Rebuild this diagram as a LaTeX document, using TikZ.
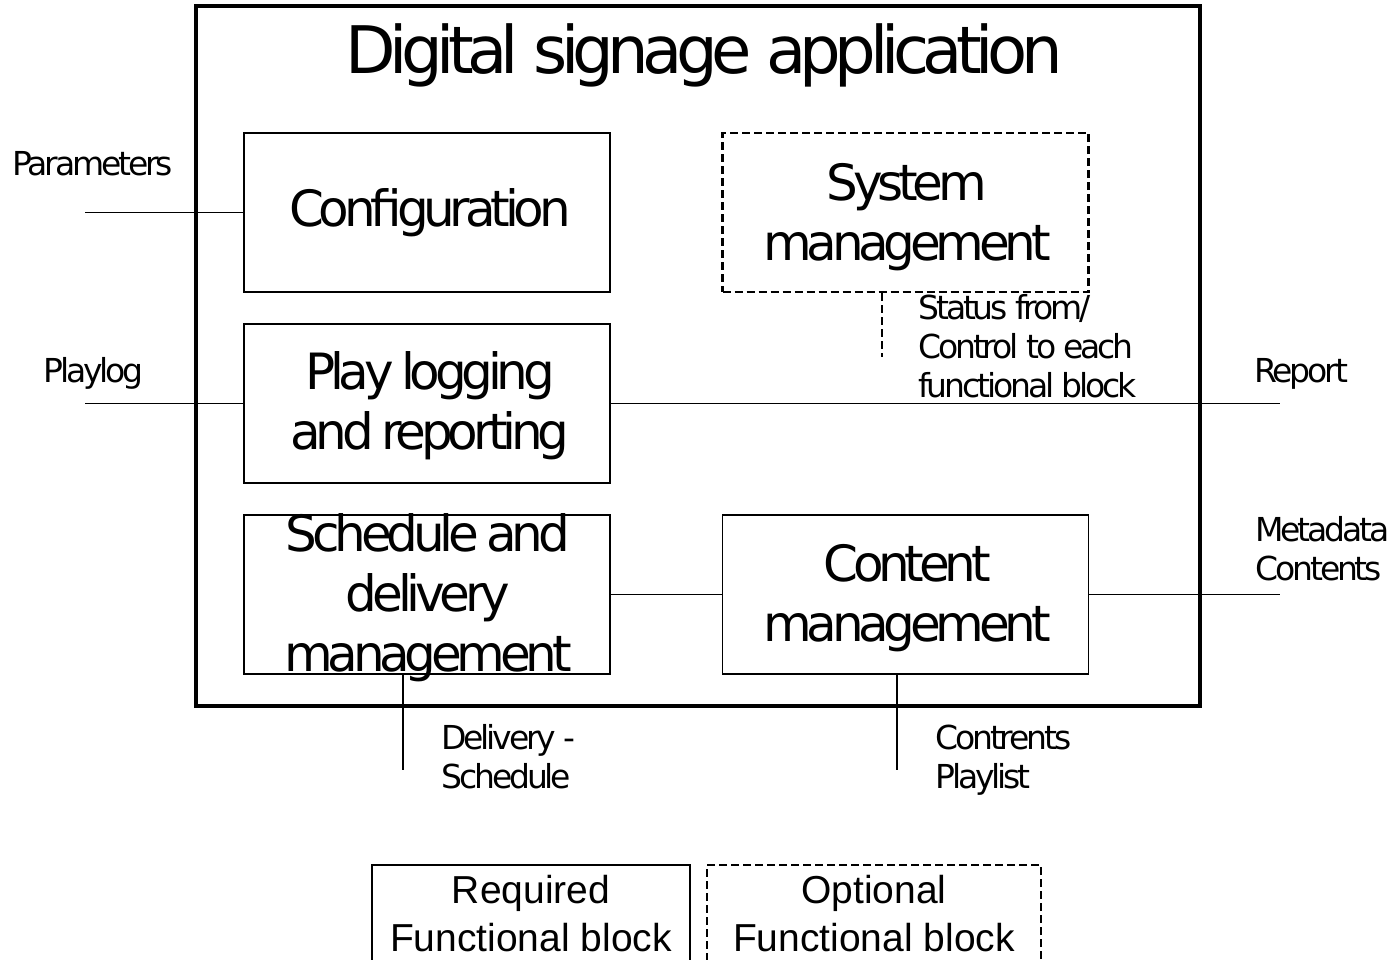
\documentclass[tikz,border=0pt]{standalone}
\usepackage{fontspec}
\newfontfamily\dvs[LetterSpace=-9.5]{DejaVu Sans}
\newfontfamily\dvb[LetterSpace=-10.5,WordSpace=0.7]{DejaVu Sans}
\newfontfamily\dvt[LetterSpace=-10]{DejaVu Sans}
\newfontfamily\arl{Liberation Sans}
\begin{document}
\begin{tikzpicture}[x=0.5pt,y=-0.5pt,
  fbox/.style={draw, line width=0.75pt, minimum width=183pt, minimum height=79.5pt, inner sep=0pt},
  optbox/.style={fbox, line width=1.4pt, dash pattern=on 4pt off 2pt},
  blktext/.style={font=\dvb\fontsize{25}{30}\selectfont, align=center, inner sep=0pt},
  lbl/.style={font=\dvs\fontsize{16.5}{19.5}\selectfont, align=left, inner sep=0pt, anchor=base west},
  lgtext/.style={font=\arl\fontsize{19.5}{24}\selectfont, align=center, inner sep=0pt, anchor=base},
  conn/.style={line width=0.8pt},
  dconn/.style={line width=1.4pt, dash pattern=on 4pt off 2pt}]
\useasboundingbox (0,0) rectangle (1395,959);
% outer application box
\node[draw, line width=2pt, minimum width=502pt, minimum height=350pt, inner sep=0pt] (outer) at (698,356) {};
\node[font=\dvt\fontsize{32.8}{40}\selectfont, inner sep=0pt, anchor=base] (title) at (704,73) {Digital signage application};
% functional blocks
\node[fbox] (cfg) at (427,212.5) {};
\node[blktext] (cfgt) at (430,212.5) {Configuration};
\node[optbox] (sys) at (905.5,212.5) {};
\node[blktext] (syst) at (907,217) {System\\management};
\node[fbox] (play) at (427,403.5) {};
\node[blktext] (playt) at (430,406) {Play logging\\and reporting};
\node[fbox] (sched) at (427,594.5) {};
\node[blktext] (schedt) at (428,598) {Schedule and\\delivery\\management};
\node[fbox] (cont) at (905.5,594.5) {};
\node[blktext] (contt) at (907,598) {Content\\management};
% free ends
\coordinate (pin) at (85,212.5);
\coordinate (plin) at (85,403.5);
\coordinate (repout) at (1280,403.5);
\coordinate (metaout) at (1280,594.5);
\coordinate (d1) at (403,770);
\coordinate (d2) at (897,770);
\coordinate (d3) at (882,357);
% connectors
\draw[conn] (pin) -- (cfg.west);
\draw[conn] (plin) -- (play.west);
\draw[conn] (play.east) -- (repout);
\draw[conn] (sched.east) -- (cont.west);
\draw[conn] (cont.east) -- (metaout);
\draw[conn] (sched.south -| d1) -- (d1);
\draw[conn] (cont.south -| d2) -- (d2);
\draw[dconn] (sys.south -| d3) -- (d3);
% labels (anchor base = baseline of last line)
\node[lbl] (lpar) at (12,175) {Parameters};
\node[lbl] (lplay) at (43,382) {Playlog};
\node[lbl] (lrep) at (1254,382) {Report};
\node[lbl] (lmeta) at (1255,580) {Metadata\\Contents};
\node[lbl] (lstat) at (918,397) {Status from/\\Control to each\\functional block};
\node[lbl] (ldel) at (441,788) {Delivery -\\Schedule};
\node[lbl] (lcon) at (935,788) {Contrents\\Playlist};
% legend
\node[fbox, minimum width=159pt, minimum height=60pt] (req) at (531,925) {};
\node[lgtext] (reqt) at (531,951) {Required\\Functional block};
\node[optbox, minimum width=167pt, minimum height=60pt] (opt) at (874,925) {};
\node[lgtext] (optt) at (874,951) {Optional\\Functional block};
\end{tikzpicture}
\end{document}
